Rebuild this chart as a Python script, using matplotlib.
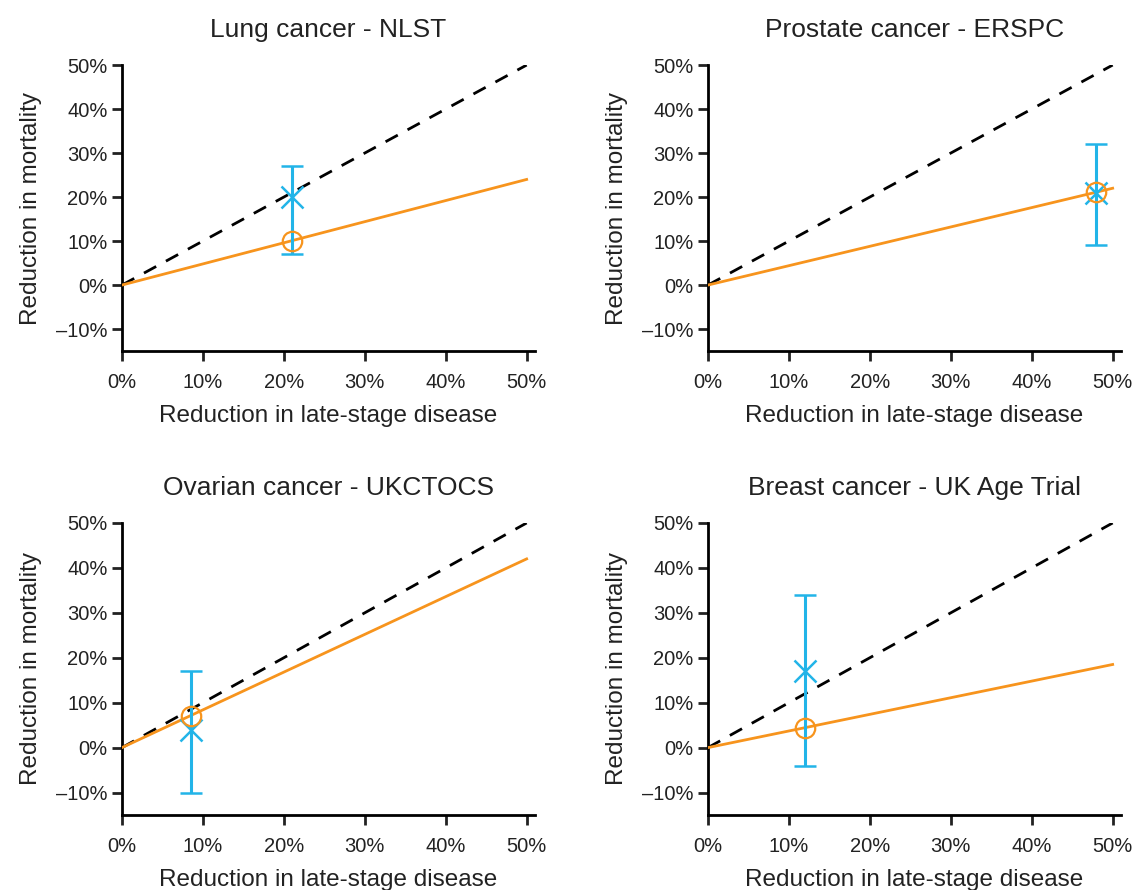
import matplotlib
matplotlib.use("Agg")
import matplotlib.pyplot as plt
from matplotlib.ticker import FuncFormatter

plt.rcParams['font.family'] = ['Liberation Sans', 'DejaVu Sans']

titles = ['Lung cancer - NLST', 'Prostate cancer - ERSPC',
          'Ovarian cancer - UKCTOCS', 'Breast cancer - UK Age Trial']
late_stage = [21, 48, 8.5, 12]          # observed reduction in late-stage disease (%)
predicted = [10, 21.2, 7.1, 4.4]        # predicted mortality reduction (%)
observed = [20, 21, 4, 17]              # observed mortality reduction (%)
ci_low = [7, 9, -10, -4]
ci_high = [27, 32, 17, 34]
line_end = [24, 22, 42, 18.5]           # orange line value at 50%

orange = '#F7941D'
blue = '#22B4E8'

fig = plt.figure(figsize=(11.37, 8.9), dpi=100)
boxes = [(0.1073, 0.6056, 0.363, 0.3213),
         (0.6227, 0.6056, 0.363, 0.3213),
         (0.1073, 0.0843, 0.363, 0.3281),
         (0.6227, 0.0843, 0.363, 0.3281)]

pct = FuncFormatter(lambda v, p: f'{v:.0f}%'.replace('-', '\u2013'))

for i in range(4):
    ax = fig.add_axes(boxes[i])
    ax.plot([0, 50], [0, 50], color='black', ls=(0, (5, 4)), lw=2, zorder=2)
    ax.plot([0, 50], [0, line_end[i]], color=orange, lw=2, zorder=3)
    ax.errorbar(late_stage[i], observed[i],
                yerr=[[observed[i] - ci_low[i]], [ci_high[i] - observed[i]]],
                fmt='x', color=blue, ms=16, mew=1.8, elinewidth=2.2,
                capsize=8, capthick=2.2, zorder=4)
    ax.plot(late_stage[i], predicted[i], 'o', mfc='none', mec=orange,
            ms=14, mew=1.6, zorder=5)
    ax.set_xlim(0, 51)
    ax.set_ylim(-15, 50)
    ax.set_xticks(range(0, 51, 10))
    ax.set_yticks(range(-10, 51, 10))
    ax.xaxis.set_major_formatter(pct)
    ax.yaxis.set_major_formatter(pct)
    ax.spines['top'].set_visible(False)
    ax.spines['right'].set_visible(False)
    ax.spines['left'].set_linewidth(2)
    ax.spines['bottom'].set_linewidth(2)
    ax.tick_params(width=2, length=7, labelsize=14.5, colors='#222222')
    ax.tick_params(axis='x', pad=9)
    ax.set_title(titles[i], fontsize=19, color='#222222', pad=20)
    ax.set_xlabel('Reduction in late-stage disease', fontsize=17.5,
                  color='#222222', labelpad=9)
    ax.set_ylabel('Reduction in mortality', fontsize=17.5,
                  color='#222222', labelpad=10)

fig.savefig('out.png', dpi=100)
